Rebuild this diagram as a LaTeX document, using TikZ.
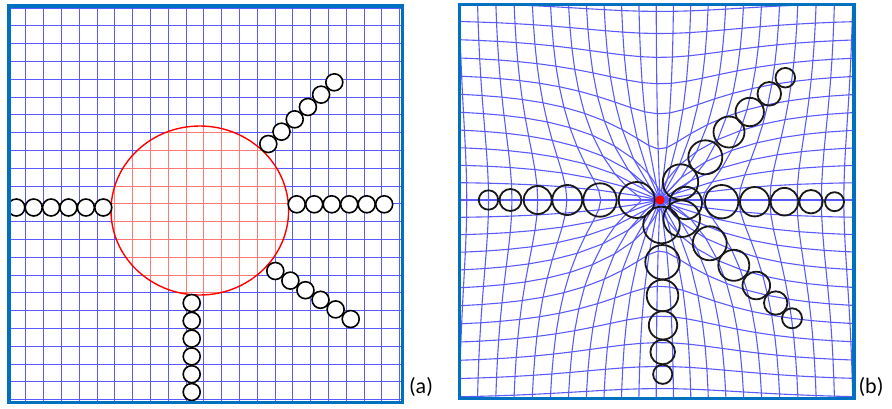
\documentclass[tikz,border=0pt]{standalone}
\usepackage{fontspec}
\setmainfont{Carlito}
\definecolor{framebl}{RGB}{0,112,192}
\definecolor{gridbl}{RGB}{90,90,255}
\definecolor{gridrd}{RGB}{255,120,120}
\begin{document}
\begin{tikzpicture}[x=1pt,y=-1pt,
  gline/.style={gridbl,line width=1.1pt,line join=round},
  rline/.style={gridrd,line width=1.1pt},
  boxframe/.style={framebl,line width=3.3pt},
  bead/.style={draw=black,fill=white,line width=1.6pt},
  ring/.style={draw=black!90,line width=1.8pt},
  lbl/.style={font=\fontsize{22}{26}\selectfont,inner sep=0pt},
  declare function={sc(\q)=max(0,\q-4.83*exp(-(\q-4.83)/2.78))/max(\q,0.001);}]
\useasboundingbox (0,0) rectangle (892,408);

% (a) square grid with the disk
\begin{scope}
\clip (9,6) rectangle (402.5,402.5);
\foreach \k in {0,...,22} {
  \pgfmathsetmacro\pos{floor(8+17.8*\k)+0.5}
  \draw[gline] (\pos,0) -- (\pos,408);
  \draw[gline] (0,\pos) -- (408,\pos);
}
\fill[white] (199.8,210.5) ellipse [x radius=88.8, y radius=84.5];
\clip (199.8,210.5) ellipse [x radius=88.8, y radius=84.5];
\foreach \k in {0,...,22} {
  \pgfmathsetmacro\pos{floor(8+17.8*\k)+0.5}
  \draw[rline] (\pos,0) -- (\pos,408);
  \draw[rline] (0,\pos) -- (408,\pos);
}
\end{scope}
\draw[red,line width=1.4pt] (199.8,210.5) ellipse [x radius=88.8, y radius=84.5];

\foreach \k in {0,...,5} {
  \draw[bead] ({16.3+17.4*\k},207.5) circle (8.5);
  \draw[bead] ({296.7+17.5*\k},204.3) circle (8.5);
  \draw[bead] (191.7,{303+17.8*\k}) circle (8.5);
  \draw[bead] ({268.3+13.2*\k},{144-12.34*\k}) circle (8.5);
  \draw[bead] ({275.3+15.08*\k},{271+9.6*\k}) circle (8.5);
}
\draw[boxframe] (9,6) rectangle (402.5,402.5);
\node[lbl] (lbla) at (421,387) {(a)};

% (b) grid with the disk pulled into a point
\begin{scope}
\clip (459.5,4.7) rectangle (854,398.7);
\foreach \j in {-12,...,12}
  \draw[gline] plot[variable=\i, samples at={-13,...,13}]
    ({660+18*(\i-0.22)*sc(veclen(\i-0.22,\j))},{200+18*\j*sc(veclen(\i-0.22,\j))});
\foreach \i in {-13,...,13}
  \draw[gline] plot[variable=\j, samples at={-12,...,12}]
    ({660+18*(\i-0.22)*sc(veclen(\i-0.22,\j))},{200+18*\j*sc(veclen(\i-0.22,\j))});
\end{scope}

\foreach \x/\y/\rad in {488.5/200/9.7, 510.5/200/11, 537.7/200/14, 567.3/200/15, 600/200/16.7, 636.7/200/18,
  685.8/203/16.2, 721.7/201.7/16.7, 754.7/201.7/14.7, 784.5/201.7/13.8, 811/201.7/11.7, 834.5/201.7/9.5,
  680.5/182/17.7, 705.3/157.3/17, 729/132/15.5, 749.7/112/14.2, 769.3/93.8/11.8, 785.3/77.7/9.8,
  681.7/218.7/18.3, 709.7/243.3/17, 733.8/265.3/15.5, 756.3/285.5/13.8, 775.7/303/11.7, 792/318.3/10,
  661.5/225/18.3, 662.5/262.2/17.2, 662.5/295.5/15.8, 663/325.3/14.2, 662.7/352/12.3, 662.7/374.3/9.6}
  \draw[ring] (\x,\y) circle (\rad);
\fill[red] (660,200) circle (4.5);
\draw[boxframe] (459.5,4.7) rectangle (854,398.7);
\node[lbl] (lblb) at (871,387) {(b)};
\end{tikzpicture}
\end{document}
